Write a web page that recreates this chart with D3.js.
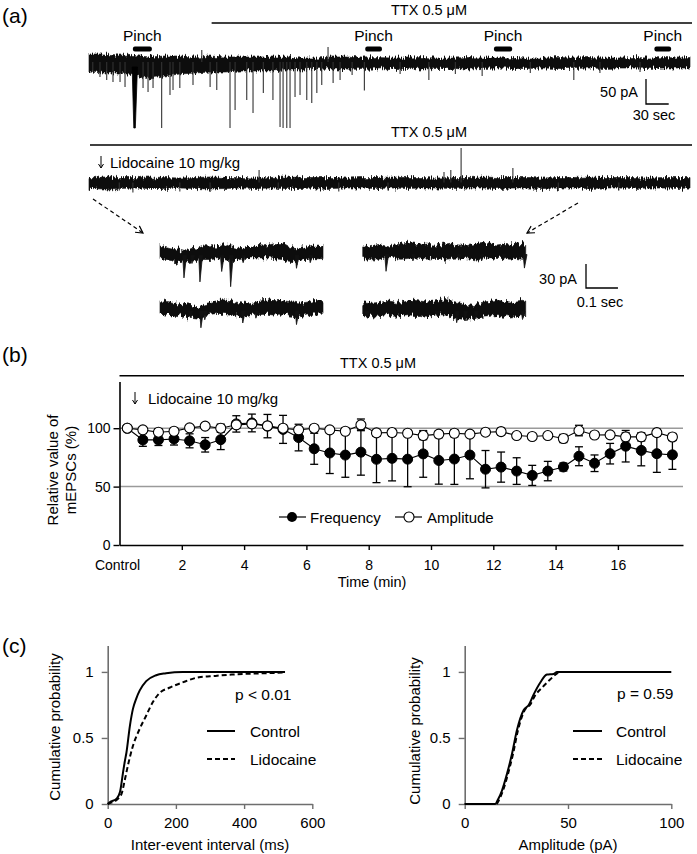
<!DOCTYPE html>
<html><head><meta charset="utf-8">
<script src="https://cdn.jsdelivr.net/npm/d3@7"></script>
<style>
body{margin:0;background:#fff}
svg{display:block}
text{font-family:"Liberation Sans",Arial,Helvetica,sans-serif;fill:#000}
</style>
</head><body>
<svg id="chart" width="697" height="854"></svg>
<script>
// ---------------- Panel (a): long recordings (time in s, current in pA) ----------------
const traceT = [0,20,40,60,80,100,120,140,160,180,200,220,240,260,280,300,320,340,360,380,400,420,440,460,480,500,520,540,560,580,600,620,640,660,680,700,720,740,760,780,794];
const trace1Top = [16,16,14,13,10,12,12,10,12,10,10,10,10,10,8,8,10,10,8,9,8,8,9,8,8,9,8,8,9,8,8,9,8,9,8,8,9,8,9,8,9];
const trace1Bot = [-20,-22,-22,-26,-32,-28,-24,-22,-20,-20,-18,-18,-18,-16,-16,-15,-14,-14,-15,-14,-13,-13,-14,-13,-13,-14,-13,-12,-13,-13,-12,-13,-13,-12,-13,-12,-12,-13,-12,-12,-12];
const trace1Spikes = [[5,-20],[14.5,-30],[23.4,-36],[31.7,-40],[41,-40],[47.6,-50],[71.4,-52],[78,-60],[84.6,-52],[96,-132],[107,-66],[111,-56],[120,-52],[137.4,-46],[149,24],[160,-50],[168.8,-56],[186.3,-132],[193,-96],[208.4,-76],[216.7,-102],[230.3,-62],[243,-76],[252.4,-130],[256.4,-132],[261.3,-132],[265.6,-132],[272.2,-70],[278.8,-66],[287.7,-76],[294.3,-82],[301,-62],[307.5,-46],[315.8,30],[322.5,-42],[331.7,-36],[347.6,-26],[363.8,-57],[411,-24],[449,-36],[484,-24],[519.4,-28],[583,-22],[640.5,-36],[675,-22],[728,-20]];
const pinchSpike = [60,-132];
const trace2Top = [10,11,10,10,11,10,9,10,11,10,10,9,10,11,10,10,10,9,10,10,11,10,10,9,10,10,11,10,10,10,9,10,10,11,10,10,10,9,10,10,10];
const trace2Bot = [-12,-13,-12,-11,-12,-12,-11,-12,-13,-12,-11,-12,-11,-12,-12,-11,-12,-11,-11,-12,-11,-12,-11,-11,-12,-11,-11,-12,-11,-11,-12,-11,-11,-12,-11,-11,-12,-11,-11,-12,-11];
const trace2Spikes = [[491.6,69],[224.7,25],[560,29],[469,21],[478,25],[58,-20],[120,-18],[160,-19],[395,-16],[330,-18],[620,-17],[700,-16],[40,-16],[250,-15]];
const pinchTimes = [[58,83],[365,387],[535,559],[747,769]];
const ttxStart1 = 162;

// ---------------- Panel (a): insets (time in ms, current in pA) ----------------
const insetT = [0,20,40,60,80,100,120,140,160,180,200,220,240,260,280,300,320,340,360,380,400,420,440,460,480,500,510];
const ltTop = [8,6,4,3,1,4,3,6,6,6,10,6,4,4,6,8,7,8,10,10,6,4,4,6,8,8,7];
const ltBot = [-9,-10,-12,-14,-13,-12,-11,-10,-10,-9,-10,-12,-11,-9,-8,-8,-8,-8,-9,-10,-12,-13,-11,-10,-9,-9,-9];
const ltEvents = [[75,-33],[125,-38],[193,-25],[221,-44],[427,-21],[100,-15],[260,-14],[470,-14]];
const lbTop = [8,7,6,4,3,2,0,4,6,8,9,8,6,5,4,6,8,9,8,8,7,6,5,6,8,8,8];
const lbBot = [-8,-9,-10,-11,-12,-13,-14,-11,-9,-8,-8,-9,-11,-12,-10,-9,-8,-8,-9,-9,-11,-12,-12,-10,-9,-9,-9];
const lbEvents = [[128,-26],[259,-20],[427,-22],[140,-16],[300,-14],[95,-13]];
const rtTop = [7,6,7,8,6,7,8,9,8,7,8,7,6,7,8,7,6,7,8,9,8,7,8,7,8,9,6];
const rtBot = [-10,-11,-12,-10,-9,-10,-11,-10,-9,-10,-11,-10,-10,-11,-10,-9,-10,-11,-12,-10,-9,-10,-10,-11,-10,-11,-12];
const rtEvents = [[73,-26],[157,-13],[372,-13],[506,-22],[300,-12],[440,-12]];
const rbTop = [6,5,6,7,8,7,6,8,9,8,7,8,9,10,8,6,4,3,5,7,8,9,8,7,8,9,8];
const rbBot = [-10,-11,-12,-11,-10,-11,-10,-9,-10,-10,-11,-10,-10,-11,-12,-14,-15,-14,-13,-12,-11,-10,-11,-12,-11,-10,-12];
const rbEvents = [[12,-12],[294,-19],[320,-15],[354,-14],[500,-15],[230,-10]];

// ---------------- Panel (b) ----------------
const bTimes = [0.25,0.75,1.25,1.75,2.25,2.75,3.25,3.75,4.25,4.75,5.25,5.75,6.25,6.75,7.25,7.75,8.25,8.75,9.25,9.75,10.25,10.75,11.25,11.75,12.25,12.75,13.25,13.75,14.25,14.75,15.25,15.75,16.25,16.75,17.25,17.75];
const freqVals = [100,90,90,90.8,89.2,85.8,90.2,103.7,104.5,101.8,99,92,82.4,78.8,77,79.5,73.4,74.2,73.5,78,72.4,73.6,77,64.9,66.7,63.3,59.6,63.3,66.8,76,70,78.2,84.6,81,78.2,77.2];
const freqErr = [0,5.5,4.8,5.2,6,6.2,8.5,7,7.6,10,12,11.4,13.3,17.6,19,19.7,20,19.3,23.6,20,20.3,21.7,20.3,16,12.9,11.4,8.6,8.3,3.4,8.1,7.1,8.8,13.5,13.2,16,12.4];
const ampVals = [100,98.6,96.6,97.4,100.3,101.8,100,102.9,103.7,102,100,98.6,100,98.6,97.4,102.9,96,96.3,95.7,93.7,94.9,95.7,94.9,96.6,97.1,93.7,92.9,93.7,91.2,98,94.2,94.3,92.6,92.6,96.2,92.5];
const ampErr = [0,2.5,3,2.5,2,2,3.5,3,3,3,3,2.5,2.5,2.5,2.5,5,3,3,2.5,3.5,3,3,2.5,2.5,3,2,2,2,3.5,4.5,2.5,2,3.5,3.5,3,3];
const bXTicks = [2,4,6,8,10,12,14,16];
const bYTicks = [0,50,100];
const bGrid = [50,100];

// ---------------- Panel (c) ----------------
const ieiCtrlX = [0,10,20,26,36,45,50,55,65,74,84,94,113,142,171,220,300,400,520];
const ieiCtrlY = [0,0.02,0.03,0.04,0.09,0.24,0.32,0.39,0.59,0.72,0.8,0.86,0.93,0.975,0.99,1,1,1,1];
const ieiLidoX = [0,10,20,30,41,50,60,74,94,113,132,152,181,219,268,316,364,461,514];
const ieiLidoY = [0,0.01,0.02,0.04,0.08,0.18,0.3,0.44,0.57,0.67,0.77,0.84,0.88,0.92,0.96,0.97,0.98,0.99,0.995];
const ampCtrlX = [0,14.8,16,18,20.5,22.9,25.3,28.5,31,33.4,36.6,39.8,43,44.7,100];
const ampCtrlY = [0,0,0.03,0.1,0.23,0.38,0.56,0.71,0.75,0.83,0.92,0.98,0.985,1,1];
const ampLidoX = [0,15.3,16.6,18.5,21,23.4,25.8,29,31.6,34,37.4,41.2,44,46,100];
const ampLidoY = [0,0,0.03,0.1,0.23,0.38,0.56,0.71,0.75,0.82,0.88,0.94,0.98,1,1];
const cIeiTicks = [0,200,400,600];
const cAmpTicks = [0,50,100];
const cYTicks = [0,0.5,1];

// =====================================================================
const svg = d3.select('#chart');
const defs = svg.append('defs');
// rough-edge filters (visual texture only: vertical displacement of the band edges)
function roughFilter(id, fx, fy, scale, seed) {
  const f = defs.append('filter').attr('id', id).attr('x', '-0.02').attr('y', '-1').attr('width', '1.04').attr('height', '3');
  f.append('feTurbulence').attr('type', 'fractalNoise').attr('baseFrequency', `${fx} ${fy}`)
    .attr('numOctaves', 2).attr('seed', seed).attr('result', 'n');
  f.append('feColorMatrix').attr('in', 'n').attr('type', 'matrix')
    .attr('values', '0 0 0 0 0.5  0 1 0 0 0  0 0 0 0 0  0 0 0 0 1').attr('result', 'm');
  f.append('feDisplacementMap').attr('in', 'SourceGraphic').attr('in2', 'm').attr('scale', scale)
    .attr('xChannelSelector', 'R').attr('yChannelSelector', 'G');
}
roughFilter('roughLong', 1.2, 0.08, 9, 3);
roughFilter('roughInset', 0.45, 0.1, 11, 7);

function text(x, y, s, size, anchor, attrs) {
  const t = svg.append('text').attr('x', x).attr('y', y).attr('font-size', size)
    .attr('text-anchor', anchor || 'start').text(s);
  if (attrs) Object.entries(attrs).forEach(([k, v]) => t.attr(k, v));
  return t;
}
function hline(x1, x2, y, w, col) {
  svg.append('line').attr('x1', x1).attr('x2', x2).attr('y1', y).attr('y2', y)
    .attr('stroke', col || '#000').attr('stroke-width', w || 1.5);
}
function downArrow(x, y1, y2) {
  svg.append('line').attr('x1', x).attr('x2', x).attr('y1', y1).attr('y2', y2)
    .attr('stroke', '#000').attr('stroke-width', 1);
  svg.append('path').attr('d', `M${x - 2.5},${y2 - 4} L${x},${y2} L${x + 2.5},${y2 - 4}`)
    .attr('fill', 'none').attr('stroke', '#000').attr('stroke-width', 1);
}

// panel letters
text(2, 23, '(a)', 21);
text(2, 362, '(b)', 21);
text(2, 653, '(c)', 21);

// ---------- (a) long traces ----------
const xTr = d3.scaleLinear().domain([0, 794]).range([89, 690]);
const yTr1 = d3.scaleLinear().domain([-100, 100]).range([112, 12]);
const yTr2 = d3.scaleLinear().domain([-100, 100]).range([232.5, 132.5]);

function drawTrace(yS, top, bot, spikes) {
  const area = d3.area().x((d, i) => xTr(traceT[i])).y0((d, i) => yS(bot[i])).y1((d, i) => yS(top[i]));
  svg.append('g').attr('filter', 'url(#roughLong)').append('path').attr('d', area(traceT))
    .attr('fill', '#111').attr('stroke', '#111').attr('stroke-width', 0.6);
  svg.append('g').selectAll('line').data(spikes).join('line')
    .attr('x1', d => xTr(d[0])).attr('x2', d => xTr(d[0]))
    .attr('y1', yS(0)).attr('y2', d => yS(d[1]))
    .attr('stroke', '#333').attr('stroke-width', 1.1);
}
drawTrace(yTr1, trace1Top, trace1Bot, trace1Spikes);
svg.append('path')
  .attr('d', `M${xTr(pinchSpike[0] - 3)},${yTr1(-10)} L${xTr(pinchSpike[0] - 0.8)},${yTr1(pinchSpike[1])} L${xTr(pinchSpike[0] + 1.2)},${yTr1(pinchSpike[1])} L${xTr(pinchSpike[0] + 4)},${yTr1(-10)} Z`)
  .attr('fill', '#000').attr('stroke', '#000').attr('stroke-width', 0.8);
drawTrace(yTr2, trace2Top, trace2Bot, trace2Spikes);

// TTX bars
hline(xTr(ttxStart1), 692, 23, 1.5);
text(429, 15, 'TTX 0.5 μM', 14.5, 'middle');
hline(90, 692, 145, 1.5);
text(429, 137, 'TTX 0.5 μM', 14.5, 'middle');

// pinch bars
pinchTimes.forEach(p => {
  svg.append('rect').attr('x', xTr(p[0])).attr('y', 46.5).attr('width', xTr(p[1]) - xTr(p[0]))
    .attr('height', 5).attr('rx', 2).attr('fill', '#000');
  text((xTr(p[0]) + xTr(p[1])) / 2, 41, 'Pinch', 15.5, 'middle');
});

// Lidocaine annotation
downArrow(101, 156, 168);
text(110, 168, 'Lidocaine 10 mg/kg', 15);

// scale bar 1
const sb1x = 646, sb1y = 104;
svg.append('path').attr('d', `M${sb1x},${sb1y - (yTr1(0) - yTr1(50))} V${sb1y} H${sb1x + xTr(30) - xTr(0)}`)
  .attr('fill', 'none').attr('stroke', '#000').attr('stroke-width', 1.3);
text(638, 97, '50 pA', 14.5, 'end');
text(654, 120, '30 sec', 14.5, 'middle');

// dashed arrows
function dashedArrow(x1, y1, x2, y2) {
  svg.append('line').attr('x1', x1).attr('y1', y1).attr('x2', x2).attr('y2', y2)
    .attr('stroke', '#000').attr('stroke-width', 1.2).attr('stroke-dasharray', '4,3');
  const a = Math.atan2(y2 - y1, x2 - x1), L = 8, s = 0.5;
  const p1 = [x2 - L * Math.cos(a - s), y2 - L * Math.sin(a - s)];
  const p2 = [x2 - L * Math.cos(a + s), y2 - L * Math.sin(a + s)];
  svg.append('path').attr('d', `M${p1[0]},${p1[1]} L${x2},${y2} L${p2[0]},${p2[1]}`)
    .attr('fill', 'none').attr('stroke', '#000').attr('stroke-width', 1.2);
}
dashedArrow(93, 199, 143, 233);
dashedArrow(578, 203, 527, 233);

// ---------- (a) insets ----------
function drawInset(x0, base, top, bot, events) {
  const xS = d3.scaleLinear().domain([0, 510]).range([x0, x0 + 163]);
  const yS = d3.scaleLinear().domain([0, 30]).range([base, base - 24]);
  const area = d3.area().x((d, i) => xS(insetT[i])).y0((d, i) => yS(bot[i])).y1((d, i) => yS(top[i]));
  const g = svg.append('g').attr('filter', 'url(#roughInset)');
  g.append('path').attr('d', area(insetT)).attr('fill', '#111').attr('stroke', '#111').attr('stroke-width', 0.6);
  svg.append('g').selectAll('path').data(events).join('path')
    .attr('d', d => `M${xS(d[0] - 4)},${yS(-5)} L${xS(d[0])},${yS(d[1])} L${xS(d[0] + 8)},${yS(-5)} Z`)
    .attr('fill', '#111').attr('stroke', '#111').attr('stroke-width', 0.8);
  return { xS, yS };
}
drawInset(160, 251.5, ltTop, ltBot, ltEvents);
drawInset(160, 307, lbTop, lbBot, lbEvents);
const rIn = drawInset(362.7, 250.5, rtTop, rtBot, rtEvents);
drawInset(362.7, 307.5, rbTop, rbBot, rbEvents);

// scale bar 2
const sb2x = 586, sb2y = 288;
svg.append('path').attr('d', `M${sb2x},${sb2y - (rIn.yS(0) - rIn.yS(30))} V${sb2y} H${sb2x + rIn.xS(100) - rIn.xS(0)}`)
  .attr('fill', 'none').attr('stroke', '#000').attr('stroke-width', 1.3);
text(577, 284, '30 pA', 14.5, 'end');
text(600, 307, '0.1 sec', 14.5, 'middle');

// ---------- (b) ----------
const xB = d3.scaleLinear().domain([0, 18.09]).range([119.5, 683]);
const yB = d3.scaleLinear().domain([0, 140]).range([545, 381.5]);

hline(119.5, 684, 375.7, 1.5);
text(378, 368, 'TTX 0.5 μM', 14.5, 'middle');

bGrid.forEach(v => hline(119.5, 683, yB(v), 1.5, '#9a9a9a'));

const gyB = svg.append('g').attr('transform', `translate(${xB(0)},0)`)
  .call(d3.axisLeft(yB).tickValues(bYTicks).tickSize(6).tickPadding(3).tickSizeOuter(0));
const gxB = svg.append('g').attr('transform', `translate(0,${yB(0)})`)
  .call(d3.axisBottom(xB).tickValues(bXTicks).tickSize(5).tickPadding(10).tickSizeOuter(0));
[gyB, gxB].forEach(g => {
  g.select('.domain').attr('stroke', '#000').attr('stroke-width', 1.6);
  g.selectAll('.tick line').attr('stroke', '#000').attr('stroke-width', 1.4);
  g.selectAll('.tick text').attr('font-size', 14).attr('fill', '#000')
    .attr('font-family', '"Liberation Sans",Arial,sans-serif');
});
text(xB(0) - 2, 570, 'Control', 14, 'middle');
text(372, 587, 'Time (min)', 14.5, 'middle');

svg.append('text').attr('transform', 'translate(58,470) rotate(-90)').attr('text-anchor', 'middle')
  .attr('font-size', 15).text('Relative value of');
svg.append('text').attr('transform', 'translate(76,470) rotate(-90)').attr('text-anchor', 'middle')
  .attr('font-size', 15).text('mEPSCs  (%)');

downArrow(135, 392, 404);
text(148, 404, 'Lidocaine 10 mg/kg', 15);

const lineB = d3.line().x((d, i) => xB(bTimes[i])).y(d => yB(d));
svg.append('path').attr('d', lineB(freqVals)).attr('fill', 'none').attr('stroke', '#000').attr('stroke-width', 1.1);
svg.append('path').attr('d', lineB(ampVals)).attr('fill', 'none').attr('stroke', '#000').attr('stroke-width', 1.1);

function errBars(vals, errs) {
  const g = svg.append('g');
  vals.forEach((v, i) => {
    if (!errs[i]) return;
    const x = xB(bTimes[i]);
    g.append('line').attr('x1', x).attr('x2', x).attr('y1', yB(v - errs[i])).attr('y2', yB(v + errs[i]))
      .attr('stroke', '#000').attr('stroke-width', 1.3);
    [v - errs[i], v + errs[i]].forEach(e => g.append('line').attr('x1', x - 4).attr('x2', x + 4)
      .attr('y1', yB(e)).attr('y2', yB(e)).attr('stroke', '#000').attr('stroke-width', 1.3));
  });
}
errBars(freqVals, freqErr);
errBars(ampVals, ampErr);

svg.append('g').selectAll('circle').data(freqVals).join('circle')
  .attr('cx', (d, i) => xB(bTimes[i])).attr('cy', d => yB(d)).attr('r', 5)
  .attr('fill', '#000').attr('stroke', '#000').attr('stroke-width', 1);
svg.append('g').selectAll('circle').data(ampVals).join('circle')
  .attr('cx', (d, i) => xB(bTimes[i])).attr('cy', d => yB(d)).attr('r', 5)
  .attr('fill', '#fff').attr('stroke', '#000').attr('stroke-width', 1.1);

// legend (b)
hline(279, 306, 517, 1.2);
svg.append('circle').attr('cx', 292).attr('cy', 517).attr('r', 5).attr('fill', '#000');
text(310, 522.5, 'Frequency', 15);
hline(395, 422, 517, 1.2);
svg.append('circle').attr('cx', 409).attr('cy', 517).attr('r', 5).attr('fill', '#fff').attr('stroke', '#000').attr('stroke-width', 1.1);
text(427, 522.5, 'Amplitude', 15);

// ---------- (c) ----------
const yC = d3.scaleLinear().domain([0, 1.2]).range([804, 645.5]);
const xC1 = d3.scaleLinear().domain([0, 600]).range([107.7, 312.3]);
const xC2 = d3.scaleLinear().domain([0, 100]).range([464.7, 671.3]);

function cAxes(xS, ticks, pad) {
  const gx = svg.append('g').attr('transform', `translate(0,${yC(0)})`)
    .call(d3.axisBottom(xS).tickValues(ticks).tickSize(5).tickPadding(8).tickSizeOuter(0));
  const gy = svg.append('g').attr('transform', `translate(${xS.range()[0]},0)`)
    .call(d3.axisLeft(yC).tickValues(cYTicks).tickSize(6).tickPadding(pad).tickSizeOuter(0).tickFormat(d3.format('')));
  [gx, gy].forEach(g => {
    g.select('.domain').attr('stroke', '#6e6e6e').attr('stroke-width', 1.6);
    g.selectAll('.tick line').attr('stroke', '#6e6e6e').attr('stroke-width', 1.4);
    g.selectAll('.tick text').attr('font-size', 15).attr('fill', '#111')
      .attr('font-family', '"Liberation Sans",Arial,sans-serif');
  });
}
cAxes(xC1, cIeiTicks, 8);
cAxes(xC2, cAmpTicks, 8);

function cdf(xS, xs, ys, dashed) {
  const l = d3.line().x((d, i) => xS(xs[i])).y(d => yC(d)).curve(d3.curveMonotoneX);
  const p = svg.append('path').attr('d', l(ys)).attr('fill', 'none').attr('stroke', '#000').attr('stroke-width', 2);
  if (dashed) p.attr('stroke-dasharray', '5,3');
}
cdf(xC1, ieiLidoX, ieiLidoY, true);
cdf(xC1, ieiCtrlX, ieiCtrlY, false);
cdf(xC2, ampLidoX, ampLidoY, true);
cdf(xC2, ampCtrlX, ampCtrlY, false);

svg.append('text').attr('transform', 'translate(60,727) rotate(-90)').attr('text-anchor', 'middle')
  .attr('font-size', 15).text('Cumulative probability');
svg.append('text').attr('transform', 'translate(420,731) rotate(-90)').attr('text-anchor', 'middle')
  .attr('font-size', 15).text('Cumulative probability');
text(210, 850, 'Inter-event interval (ms)', 15, 'middle');
text(568, 850, 'Amplitude (pA)', 15, 'middle');

text(235, 700, 'p < 0.01', 15.5);
text(617, 699, 'p = 0.59', 15.5);

function cLegend(x1, x2, tx) {
  hline(x1, x2, 731, 2);
  svg.append('line').attr('x1', x1).attr('x2', x2).attr('y1', 759).attr('y2', 759)
    .attr('stroke', '#000').attr('stroke-width', 2).attr('stroke-dasharray', '5,3');
  text(tx, 736.5, 'Control', 15.5);
  text(tx, 764.5, 'Lidocaine', 15.5);
}
cLegend(207, 235, 250);
cLegend(573, 602, 616);
</script>
</body></html>
